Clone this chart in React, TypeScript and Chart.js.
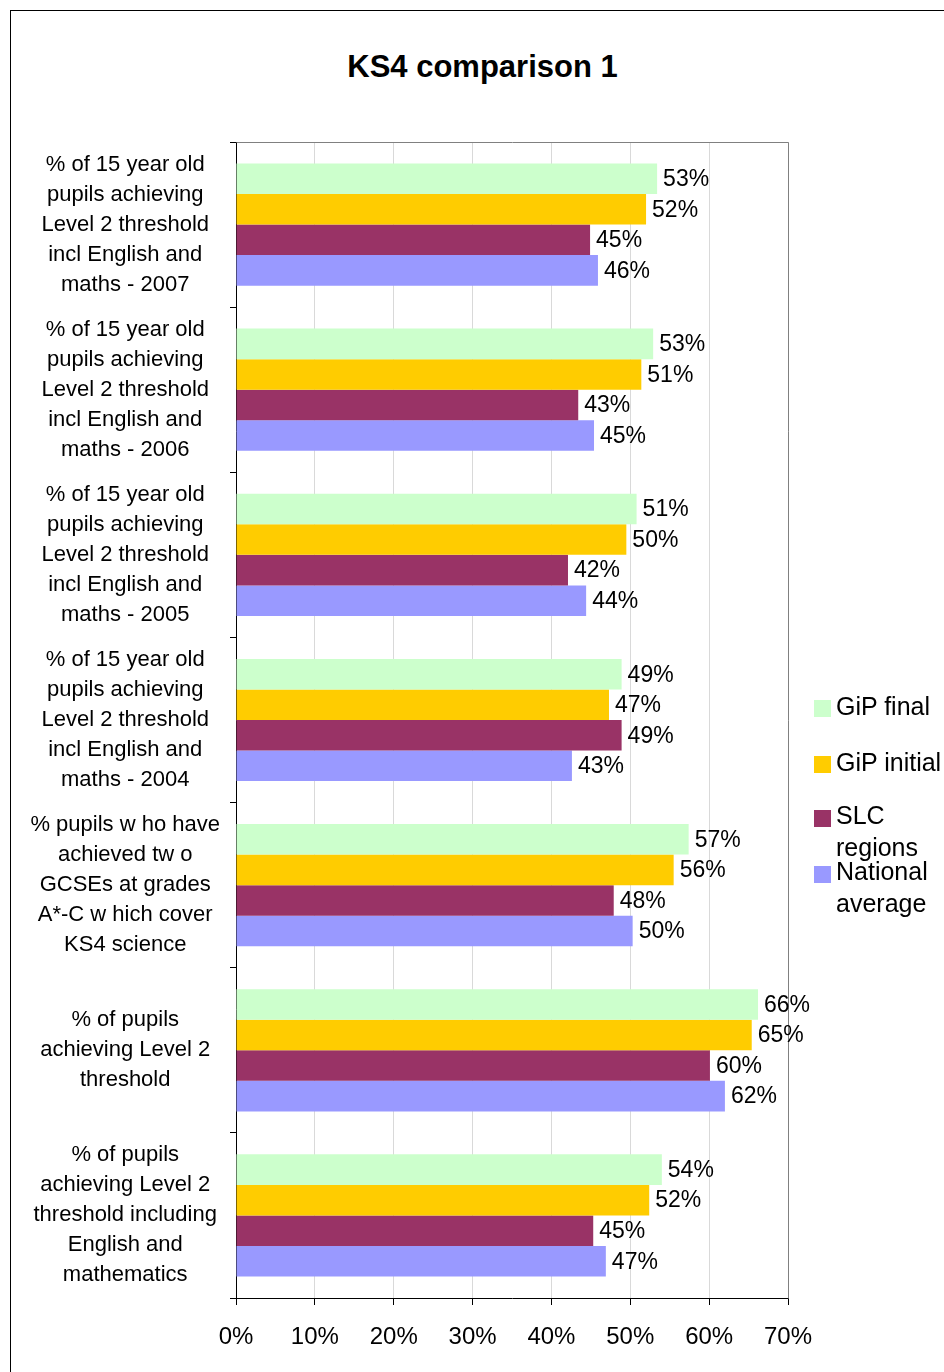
import React, { useEffect, useRef } from "react";
import { Chart, registerables } from "chart.js";

Chart.register(...registerables);

const FONT = '"Liberation Sans", Arial, sans-serif';

const categories: string[][] = [
  ["% of 15 year old", "pupils achieving", "Level 2 threshold", "incl English and", "maths - 2007"],
  ["% of 15 year old", "pupils achieving", "Level 2 threshold", "incl English and", "maths - 2006"],
  ["% of 15 year old", "pupils achieving", "Level 2 threshold", "incl English and", "maths - 2005"],
  ["% of 15 year old", "pupils achieving", "Level 2 threshold", "incl English and", "maths - 2004"],
  ["% pupils w ho have", "achieved tw o", "GCSEs at grades", "A*-C w hich cover", "KS4 science"],
  ["% of pupils", "achieving Level 2", "threshold"],
  ["% of pupils", "achieving Level 2", "threshold including", "English and", "mathematics"],
];

const seriesNames = ["GiP final", "GiP initial", "SLC regions", "National average"];
const seriesColors = ["#CCFFCC", "#FFCC00", "#993366", "#9999FF"];

const gipFinal = [53.4, 52.9, 50.8, 48.9, 57.4, 66.2, 54.0];
const gipInitial = [52.0, 51.4, 49.5, 47.3, 55.5, 65.4, 52.4];
const slcRegions = [44.9, 43.4, 42.1, 48.9, 47.9, 60.1, 45.3];
const nationalAverage = [45.9, 45.4, 44.4, 42.6, 50.3, 62.0, 46.9];

const xMin = 0;
const xMax = 70;
const xStep = 10;

const title = "KS4 comparison 1";

const legendLines: string[][] = [["GiP final"], ["GiP initial"], ["SLC", "regions"], ["National", "average"]];

const valueLabelPlugin = {
  id: "valueLabels",
  afterDatasetsDraw(chart: any) {
    const ctx = chart.ctx;
    const area = chart.chartArea;
    ctx.save();
    // top and right frame of the plot area
    ctx.strokeStyle = "#808080";
    ctx.lineWidth = 1;
    ctx.beginPath();
    ctx.moveTo(Math.round(area.left) + 0.5, Math.round(area.top) + 0.5);
    ctx.lineTo(Math.round(area.right) + 0.5, Math.round(area.top) + 0.5);
    ctx.lineTo(Math.round(area.right) + 0.5, Math.round(area.bottom) + 0.5);
    ctx.stroke();
    ctx.font = `23px ${FONT}`;
    ctx.fillStyle = "#000";
    ctx.textAlign = "left";
    ctx.textBaseline = "middle";
    chart.data.datasets.forEach((ds: any, i: number) => {
      const meta = chart.getDatasetMeta(i);
      meta.data.forEach((bar: any, j: number) => {
        const v = ds.data[j] as number;
        ctx.fillText(Math.round(v) + "%", bar.x + 6, bar.y + 1);
      });
    });
    ctx.restore();
  },
};

export default function App() {
  const canvasRef = useRef<HTMLCanvasElement | null>(null);

  useEffect(() => {
    if (!canvasRef.current) return;
    const allSeries = [gipFinal, gipInitial, slcRegions, nationalAverage];
    const chart = new Chart(canvasRef.current, {
      type: "bar",
      data: {
        labels: categories,
        datasets: allSeries.map((d, i) => ({
          label: seriesNames[i],
          data: d,
          backgroundColor: seriesColors[i],
          borderWidth: 0,
          categoryPercentage: 0.74,
          barPercentage: 1,
        })),
      },
      options: {
        indexAxis: "y",
        responsive: false,
        animation: false,
        layout: { padding: { left: 0, right: 167, top: 132, bottom: 0 } },
        plugins: {
          legend: { display: false },
          title: { display: false },
          tooltip: { enabled: false },
        },
        scales: {
          x: {
            min: xMin,
            max: xMax,
            ticks: {
              stepSize: xStep,
              callback: (v: any) => v + "%",
              font: { size: 24, family: FONT },
              color: "#000",
              padding: 18,
            },
            grid: { color: "#D9D9D9", tickColor: "#000", tickLength: 7, drawTicks: true },
            border: { color: "#000" },
            afterFit: (s: any) => {
              s.height = 74;
              s.paddingLeft = 0;
              s.paddingRight = 0;
            },
          },
          y: {
            ticks: {
              font: { size: 22, family: FONT, lineHeight: 30 / 22 },
              color: "#000",
              crossAlign: "center",
              padding: 10,
              autoSkip: false,
            },
            grid: { drawOnChartArea: false, tickLength: 6, color: "#000" },
            border: { color: "#000" },
            afterFit: (s: any) => {
              s.width = 226;
              s.paddingTop = 0;
              s.paddingBottom = 0;
            },
          },
        },
      },
      plugins: [valueLabelPlugin],
    } as any);
    return () => chart.destroy();
  }, []);

  const legendTops = [690, 746, 799, 855];
  const squareTops = [700, 756, 810, 866];

  return (
    <div
      style={{
        position: "fixed",
        left: 0,
        top: 0,
        width: 944,
        height: 1372,
        overflow: "hidden",
        background: "#fff",
        fontFamily: FONT,
      }}
    >
      <div
        style={{
          position: "absolute",
          left: 10,
          top: 10,
          width: 1000,
          height: 1400,
          borderLeft: "1px solid #000",
          borderTop: "1px solid #000",
        }}
      />
      <div
        style={{
          position: "absolute",
          left: 10,
          top: 47,
          width: 945,
          textAlign: "center",
          fontSize: 31,
          lineHeight: "40px",
          fontWeight: "bold",
          color: "#000",
          whiteSpace: "nowrap",
        }}
      >
        {title}
      </div>
      <canvas
        ref={canvasRef}
        width={945}
        height={1362}
        style={{ position: "absolute", left: 10, top: 10, width: 945, height: 1362 }}
      />
      {legendLines.map((lines, i) => (
        <React.Fragment key={i}>
          <div
            style={{
              position: "absolute",
              left: 814,
              top: squareTops[i],
              width: 17,
              height: 17,
              background: seriesColors[i],
            }}
          />
          <div
            style={{
              position: "absolute",
              left: 836,
              top: legendTops[i],
              fontSize: 25,
              lineHeight: "32px",
              color: "#000",
              whiteSpace: "nowrap",
            }}
          >
            {lines.map((l, k) => (
              <div key={k}>{l}</div>
            ))}
          </div>
        </React.Fragment>
      ))}
    </div>
  );
}
